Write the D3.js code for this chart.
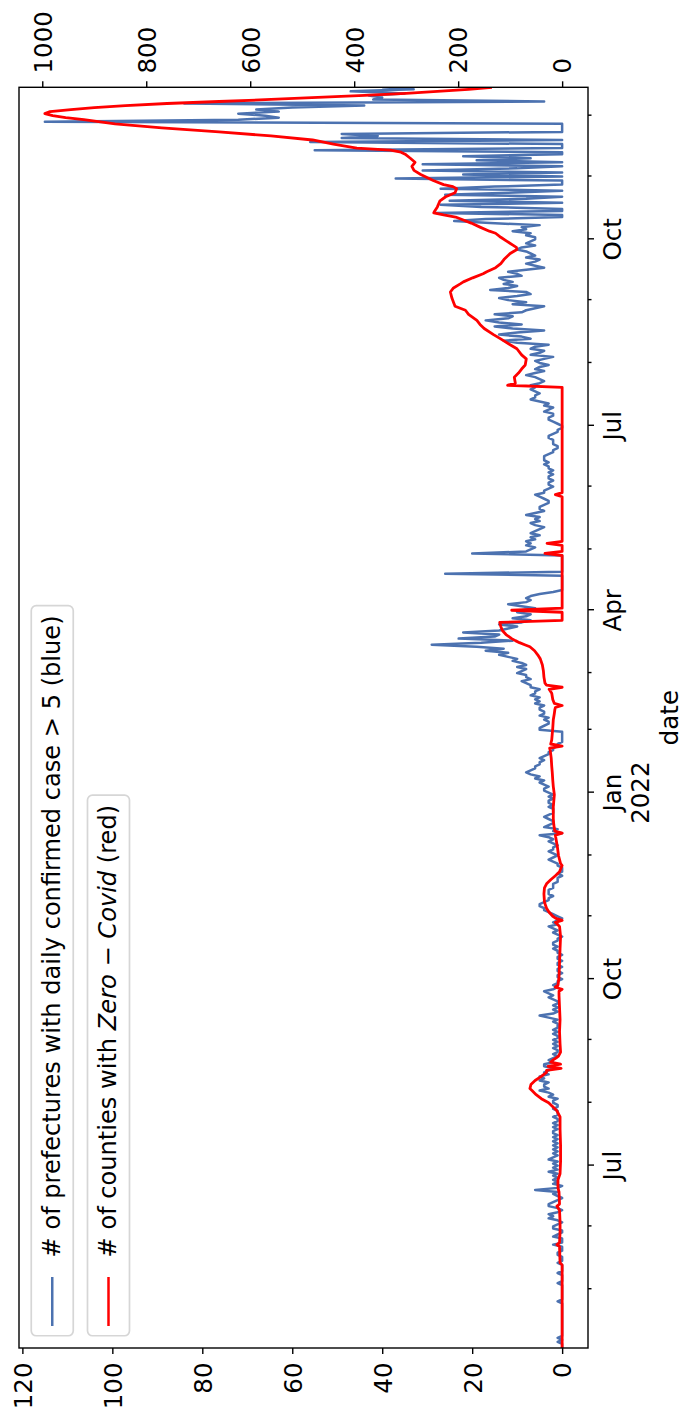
<!DOCTYPE html>
<html><head><meta charset="utf-8">
<script src="https://cdn.jsdelivr.net/npm/d3@7"></script>
<style>html,body{margin:0;padding:0;background:#fff;} svg{display:block;}</style>
</head><body>
<svg id="chart" width="683" height="1412"></svg>
<script>
// ---------------- DATA ----------------
const startDate = "2021-04-02";           // first day of both series
// blue: # of prefectures with daily confirmed case > 5, one value per day from startDate
const blueVals = [
0,0,0,1,0,1,0,0,0,0, 0,0,0,0,0,0,0,0,0,0, 0,0,0,1,0,0,0,0,0,0, 0,0,1,0,0,0,0,1,0,0,
0,0,1,0,0,0,1,1,0,0, 0,2,0,0,0,2,1,0,0,2, 2,1,0,1,3,2,3,1,0,1, 3,3,2,1,0,1,2,1,6,1,
0,2,1,2,1,2,1,3,1,2, 1,2,1,3,2,1,2,1,2,1, 2,1,2,1,2,1,2,2,1,2, 1,2,1,1,2,1,1,1,2,1,
1,2,2,1,3,2,3,5,3,4, 4,3,5,4,5,3,4,3,2,4, 4,2,3,2,1,2,1,1,2,1, 2,1,2,1,1,2,1,2,1,1,
1,2,1,3,5,2,1,2,1,2, 1,1,2,3,2,3,4,2,1,2, 1,1,0,1,1,0,1,1,0,1, 1,0,1,1,0,1,1,2,1,2,
2,1,1,0,1,2,1,2,3,1, 2,1,0,1,2,3,4,4,5,5, 4,3,3,2,3,3,3,2,2,2, 1,1,1,0,1,0,0,0,1,1,
2,3,2,1,2,3,2,2,1,2, 3,2,3,5,0,2,1,4,3,2, 2,3,4,3,2,2,2,3,2,3, 3,2,3,2,3,4,4,3,4,5,
4,6,5,7,8,7,6,6,5,5, 4,5,4,3,3,2,2,1,1,0, 0,0,0,0,0,5,5,4,3,3, 4,3,5,4,4,5,5,4,6,5,
6,5,7,6,6,5,7,7,8,9, 7,8,8,10,9,8,10,8,9,11, 10,12,14,12,17,13,19,29,18,11, 23,15,14,22,14,12,10,14,9,7,
11,8,7,10,9,6,9,12,8,7, 8,7,5,2,0,0,0,0,0,0, 0,0,26,0,0,0,0,0,0,0, 0,0,20,8,7,6,8,7,8,6,
7,5,7,6,5,4,6,7,5,6, 5,8,6,4,5,5,4,3,3,4, 5,6,4,4,3,2,3,3,2,3, 3,2,3,2,3,3,4,3,4,4,
4,3,2,2,1,1,2,2,2,3, 3,2,1,1,0,0,1,2,3,3, 2,2,4,3,2,4,3,5,7,6, 6,5,6,7,6,7,5,4,5,6,
8,6,4,6,5,3,5,6,4,2, 7,5,4,7,6,3,10,13,7,9, 14,10,4,11,15,9,14,17,12,11, 15,9,8,6,4,11,8,12,14,10,
7,8,16,12,10,13,11,13,14,9, 10,12,8,4,6,8,6,5,8,6, 7,8,10,9,6,8,7,6,6,8, 7,11,8,9,5,16,24,17,0,0,
28,0,0,18,27,0,25,8,0,26, 12,0,27,15,0,0,0,37,0,22, 0,31,10,0,31,0,19,7,22,0, 0,55,0,0,0,56,0,49,41,49,
0,0,0,0,0,115,72,63,66,72, 63,68,60,44,84,4,42,40,43,35, 47,33,40
];
// red: # of counties with Zero-Covid, day offsets from startDate and values
const redDays = [0,41,42,50,51,52,57,62,68,70,71,77,79,83,86,92,100,108,114,117,119,121,123,125,127,128,130,132,134,136,
137,138,139,140,141,142,143,144,146,150,156,162,168,174,176,177,178,179,183,190,197,203,208,210,211,212,213,215,217,220,
224,227,229,231,233,235,237,238,239,243,247,250,253,254,255,258,261,267,273,277,280,284,287,291,295,296,297,298,300,303,
306,310,313,315,316,317,318,320,323,325,326,327,328,331,334,337,340,342,344,346,347,348,349,350,352,354,356,358,359,363,
364,365,391,392,393,396,397,398,420,421,422,474,475,476,479,481,483,485,488,490,493,495,498,500,503,505,507,510,512,514,
516,518,521,523,525,526,528,530,531,533,535,537,540,542,543,544,546,548,550,551,553,555,557,558,559,560,561,563,566,568,
570,572,573,574,576,577,579,581,583,585,587,589,590,591,592,594,596,598,600,602,604,606,607,608,609,610,611,612,613,614,
615,616,617,618,619,620,621,622];
const redVals = [0,0,4,5,10,5,4,4,5,10,5,6,8,8,4,3,3,4,4,10,18,26,40,50,58,62,60,52,40,30,
30,2,27,3,22,18,12,7,3,4,5,4,5,6,6,0,13,8,6,5,4,3,5,13,0,12,18,25,30,34,
35,34,30,22,13,5,2,0,3,7,9,11,13,0,14,16,17,17,15,17,18,19,20,21,23,24,0,22,20,19,
18,17,15,14,13,0,15,18,20,25,0,30,33,35,36,38,42,47,53,62,72,82,90,97,108,115,118,120,0,0,
97,0,0,33,0,0,29,0,0,13,0,0,105,90,92,84,78,71,69,78,87,100,119,132,150,158,164,180,186,206,
209,212,215,209,196,190,172,152,145,128,118,112,100,87,88,94,106,118,128,140,158,175,195,205,228,247,245,240,235,224,
206,203,210,228,248,256,272,285,289,283,292,302,310,330,395,440,480,560,660,770,860,920,955,980,995,985,945,900,840,760,
660,560,470,380,300,240,180,135];
const blueTicks = [0,20,40,60,80,100,120];
const redTicks = [0,200,400,600,800,1000];
const majorTickDates = ["2021-07-01","2021-10-01","2022-01-01","2022-04-01","2022-07-01","2022-10-01"];
const majorTickLabels = [["Jul"],["Oct"],["Jan","2022"],["Apr"],["Jul"],["Oct"]];
const xLabel = "date";
const legendBlue = "# of prefectures with daily confirmed case > 5 (blue)";
const legendRedParts = [["# of counties with ", false], ["Zero", true], [" \u2212 ", false], ["Covid", true], [" (red)", false]];

// ---------------- DRAW ----------------
const BLUE = "#4c72b0", RED = "#ff0000";
const FONT = "'DejaVu Sans', sans-serif", FS = 24.5, LFS = 24.1;
const M = {left: 64, right: 1324.7, top: 19, bottom: 588};   // landscape frame, rotated below
const svg = d3.select("#chart");
const g = svg.append("g").attr("transform", "translate(0,1412) rotate(-90)");

const t0 = new Date(startDate + "T00:00:00Z");
const toDate = d => new Date(t0.getTime() + d * 864e5);
const blue = blueVals.map((v, i) => ({date: toDate(i), v}));
const red = redDays.map((d, i) => ({date: toDate(d), v: redVals[i]}));

const x = d3.scaleUtc().domain(d3.extent(blue.concat(red), d => d.date)).range([M.left, M.right]);
const padded = e => { const r = e[1] - e[0]; return [e[0] - 0.05 * r, e[1] + 0.05 * r]; };
const yB = d3.scaleLinear().domain(padded(d3.extent(blueVals))).range([M.bottom, M.top]);
const yR = d3.scaleLinear().domain(padded(d3.extent(redVals))).range([M.bottom, M.top]);

g.append("defs").append("clipPath").attr("id", "clip").append("rect")
  .attr("x", M.left).attr("y", M.top).attr("width", M.right - M.left).attr("height", M.bottom - M.top);

const plot = g.append("g").attr("clip-path", "url(#clip)");
plot.append("path").datum(blue)
  .attr("d", d3.line().x(d => x(d.date)).y(d => yB(d.v)))
  .attr("fill", "none").attr("stroke", BLUE).attr("stroke-width", 2.5).attr("stroke-linejoin", "round");
plot.append("path").datum(red)
  .attr("d", d3.line().x(d => x(d.date)).y(d => yR(d.v)))
  .attr("fill", "none").attr("stroke", RED).attr("stroke-width", 2.8).attr("stroke-linejoin", "round");

// axes
const majors = majorTickDates.map(s => new Date(s + "T00:00:00Z"));
const minors = d3.utcMonth.range(x.domain()[0], x.domain()[1]).filter(d => !majors.some(m => +m === +d));
function styleAxis(sel) {
  sel.select(".domain").remove();
  sel.selectAll(".tick line").attr("stroke", "#000").attr("stroke-width", 1.4);
  sel.selectAll(".tick text").attr("font-family", FONT).attr("font-size", FS).attr("fill", "#000");
}
g.append("g").attr("transform", `translate(0,${M.bottom})`)
  .call(d3.axisBottom(x).tickValues(minors).tickSize(3.5).tickFormat(() => "")).call(styleAxis);
const xMaj = g.append("g").attr("transform", `translate(0,${M.bottom})`)
  .call(d3.axisBottom(x).tickValues(majors).tickSize(6).tickFormat(() => "")).call(styleAxis);
xMaj.selectAll(".tick text").remove();
majors.forEach((m, i) => {
  const t = g.append("text").attr("font-family", FONT).attr("font-size", FS).attr("text-anchor", "middle");
  majorTickLabels[i].forEach((line, j) => {
    t.append("tspan").attr("x", x(m)).attr("y", 620.5 + j * 28).text(line);
  });
});
g.append("text").attr("x", (M.left + M.right) / 2).attr("y", 677.5)
  .attr("font-family", FONT).attr("font-size", FS).attr("text-anchor", "middle").text(xLabel);

const yAxB = g.append("g").attr("transform", `translate(${M.left},0)`)
  .call(d3.axisLeft(yB).tickValues(blueTicks).tickSize(6).tickPadding(8.5).tickFormat(d3.format("d"))).call(styleAxis);
const yAxR = g.append("g").attr("transform", `translate(${M.right},0)`)
  .call(d3.axisRight(yR).tickValues(redTicks).tickSize(6).tickPadding(7.8).tickFormat(d3.format("d"))).call(styleAxis);
[yAxB, yAxR].forEach(a => a.selectAll(".tick text").attr("dy", "0.36em"));

// frame
g.append("rect").attr("x", M.left).attr("y", M.top).attr("width", M.right - M.left).attr("height", M.bottom - M.top)
  .attr("fill", "none").attr("stroke", "#000").attr("stroke-width", 1.4);

// legends
function legend(y0, color, parts) {
  const lg = g.append("g");
  const box = lg.append("rect");
  const cy = y0 + 21;
  lg.append("line").attr("x1", 86).attr("x2", 135).attr("y1", cy).attr("y2", cy)
    .attr("stroke", color).attr("stroke-width", 2.5);
  const t = lg.append("text").attr("x", 154.6).attr("y", cy + 7.3)
    .attr("font-family", FONT).attr("font-size", LFS).attr("fill", "#000").attr("xml:space", "preserve");
  parts.forEach(([s, it]) => t.append("tspan").attr("font-style", it ? "italic" : "normal").text(s));
  const len = t.node().getComputedTextLength();
  box.attr("x", 76.25).attr("y", y0).attr("width", 154.6 + len + 9.8 - 76.25).attr("height", 42)
    .attr("rx", 5).attr("fill", "#fff").attr("fill-opacity", 0.8)
    .attr("stroke", "#cccccc").attr("stroke-opacity", 0.8).attr("stroke-width", 1.7);
}
legend(31.25, BLUE, [[legendBlue, false]]);
legend(87.5, RED, legendRedParts);
</script>
</body></html>
